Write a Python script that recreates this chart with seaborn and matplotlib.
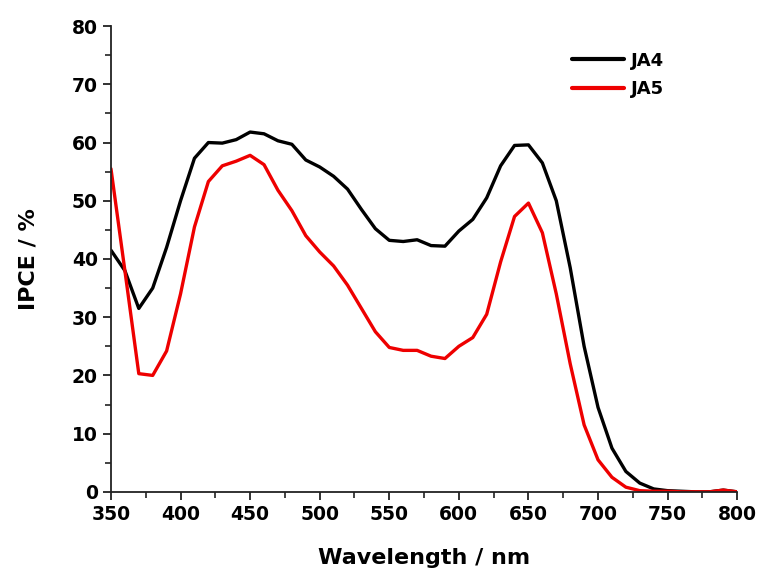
import numpy as np
import pandas as pd
import matplotlib
matplotlib.use("Agg")
import matplotlib.pyplot as plt
import seaborn as sns
from matplotlib.ticker import MultipleLocator

# wavelength grid, every 10 nm
wavelength = list(range(350, 801, 10))

ja4 = [41.5, 38.0, 31.5, 35.0, 42.0, 50.0, 57.3, 60.0, 59.9, 60.5,
       61.8, 61.5, 60.3, 59.7, 57.0, 55.8, 54.2, 52.0, 48.5, 45.2,
       43.2, 43.0, 43.3, 42.3, 42.2, 44.8, 46.8, 50.5, 56.0, 59.5,
       59.6, 56.5, 50.0, 38.5, 25.0, 14.5, 7.5, 3.5, 1.5, 0.5,
       0.2, 0.1, 0.0, 0.0, 0.3, 0.0]

ja5 = [55.5, 38.0, 20.3, 20.0, 24.2, 34.0, 45.5, 53.3, 56.0, 56.8,
       57.8, 56.2, 51.8, 48.3, 44.0, 41.2, 38.8, 35.5, 31.5, 27.5,
       24.8, 24.3, 24.3, 23.3, 22.9, 25.0, 26.5, 30.5, 39.5, 47.3,
       49.6, 44.5, 34.0, 22.0, 11.5, 5.5, 2.5, 0.8, 0.2, 0.1,
       0.1, 0.0, 0.0, 0.0, 0.3, 0.0]

df = pd.concat([
    pd.DataFrame({"wl": wavelength, "ipce": ja4, "dye": "JA4"}),
    pd.DataFrame({"wl": wavelength, "ipce": ja5, "dye": "JA5"}),
])

sns.set_theme(style="ticks")
plt.rcParams["font.family"] = ["DejaVu Sans"]
plt.rcParams["font.weight"] = "bold"

fig = plt.figure(figsize=(7.6, 5.8), dpi=100)
ax = fig.add_axes([0.146, 0.152, 0.824, 0.803])

sns.lineplot(data=df, x="wl", y="ipce", hue="dye",
             palette={"JA4": "black", "JA5": "#ee0000"},
             linewidth=2.4, ax=ax)

ax.set_xlim(350, 800)
ax.set_ylim(0, 80)
ax.xaxis.set_major_locator(MultipleLocator(50))
ax.xaxis.set_minor_locator(MultipleLocator(25))
ax.yaxis.set_major_locator(MultipleLocator(10))
ax.yaxis.set_minor_locator(MultipleLocator(5))
ax.tick_params(which="major", length=6, width=1.3, labelsize=13.5, colors="#222222")
ax.tick_params(which="minor", length=4, width=1.2, colors="#222222")
for lab in ax.get_xticklabels() + ax.get_yticklabels():
    lab.set_fontweight("bold")
    lab.set_color("black")

for s in ["top", "right"]:
    ax.spines[s].set_visible(False)
for s in ["left", "bottom"]:
    ax.spines[s].set_linewidth(1.3)
    ax.spines[s].set_color("#222222")

ax.set_xlabel("Wavelength / nm", fontsize=16, fontweight="bold",
              color="black", labelpad=17)
ax.set_ylabel("IPCE / %", fontsize=16, fontweight="bold",
              color="black", labelpad=24)

leg = ax.legend(loc="upper left", bbox_to_anchor=(0.71, 0.98), frameon=False,
                fontsize=13, handlelength=2.9, handletextpad=0.4,
                labelspacing=0.6, title=None)
for t in leg.get_texts():
    t.set_fontweight("bold")
    t.set_color("black")
for h in leg.get_lines():
    h.set_linewidth(3)

fig.savefig("out.png", dpi=100, facecolor="white")
